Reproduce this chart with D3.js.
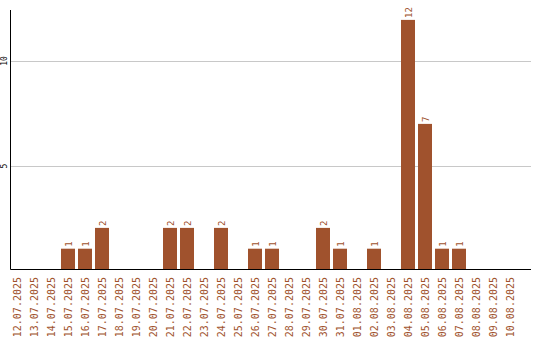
<!DOCTYPE html>
<html>
<head>
<meta charset="utf-8">
<script src="https://cdn.jsdelivr.net/npm/d3@7"></script>
<style>
    body { margin: 0; background: #fff; }
    svg { display: block; }
</style>
</head>
<body>
<svg id="chart" width="540" height="340"></svg>
<script>
const dates = [
    "12.07.2025", "13.07.2025", "14.07.2025", "15.07.2025", "16.07.2025",
    "17.07.2025", "18.07.2025", "19.07.2025", "20.07.2025", "21.07.2025",
    "22.07.2025", "23.07.2025", "24.07.2025", "25.07.2025", "26.07.2025",
    "27.07.2025", "28.07.2025", "29.07.2025", "30.07.2025", "31.07.2025",
    "01.08.2025", "02.08.2025", "03.08.2025", "04.08.2025", "05.08.2025",
    "06.08.2025", "07.08.2025", "08.08.2025", "09.08.2025", "10.08.2025"
];
const counts = [
    0, 0, 0, 1, 1, 2, 0, 0, 0, 2,
    2, 0, 2, 0, 1, 1, 0, 0, 2, 1,
    0, 1, 0, 12, 7, 1, 1, 0, 0, 0
];
const yTicks = [5, 10];

const svg = d3.select("#chart");
const barColor = "#a0522d";
const textColor = "#a0522d";
const font = "'DejaVu Sans Mono', monospace";

const left = 10.5;
const right = 531;
const baseY = 269.5;

const x = d3.scaleBand()
    .domain(dates)
    .range([10, 517])
    .paddingInner(3 / 17)
    .paddingOuter(0)
    .align(0);

const y = d3.scaleLinear()
    .domain([0, 12.5])
    .range([baseY, 9.5]);

// grid lines
svg.append("g")
    .selectAll("line")
    .data(yTicks)
    .join("line")
    .attr("x1", left)
    .attr("x2", right)
    .attr("y1", d => Math.round(y(d)) + 0.5)
    .attr("y2", d => Math.round(y(d)) + 0.5)
    .attr("stroke", "#c8c8c8")
    .attr("stroke-width", 1);

// y tick labels, rotated
svg.append("g")
    .selectAll("text")
    .data(yTicks)
    .join("text")
    .attr("transform", d => "translate(7," + Math.round(y(d)) + ") rotate(-90)")
    .attr("text-anchor", "middle")
    .attr("font-family", font)
    .attr("font-size", 8)
    .attr("fill", "#000")
    .text(d => d);

// bars
svg.append("g")
    .selectAll("rect")
    .data(dates)
    .join("rect")
    .attr("x", d => x(d))
    .attr("width", x.bandwidth())
    .attr("y", (d, i) => y(counts[i]))
    .attr("height", (d, i) => baseY - y(counts[i]))
    .attr("fill", barColor);

// value labels above bars
svg.append("g")
    .selectAll("text")
    .data(dates.filter((d, i) => counts[i] > 0))
    .join("text")
    .attr("transform", d => {
        const v = counts[dates.indexOf(d)];
        return "translate(" + (x(d) + x.bandwidth() / 2 + 3.5) + "," + (y(v) - 2) + ") rotate(-90)";
    })
    .attr("text-anchor", "start")
    .attr("font-family", font)
    .attr("font-size", 9)
    .attr("fill", textColor)
    .text(d => counts[dates.indexOf(d)]);

// axes lines
svg.append("line")
    .attr("x1", left).attr("x2", left)
    .attr("y1", 10).attr("y2", baseY)
    .attr("stroke", "#000");

svg.append("line")
    .attr("x1", left).attr("x2", right)
    .attr("y1", baseY).attr("y2", baseY)
    .attr("stroke", "#000");

// category labels
svg.append("g")
    .selectAll("text")
    .data(dates)
    .join("text")
    .attr("transform", d => "translate(" + (x(d) + x.bandwidth() / 2 + 4) + ",277) rotate(-90)")
    .attr("text-anchor", "end")
    .attr("font-family", font)
    .attr("font-size", 10)
    .attr("fill", textColor)
    .text(d => d);
</script>
</body>
</html>
